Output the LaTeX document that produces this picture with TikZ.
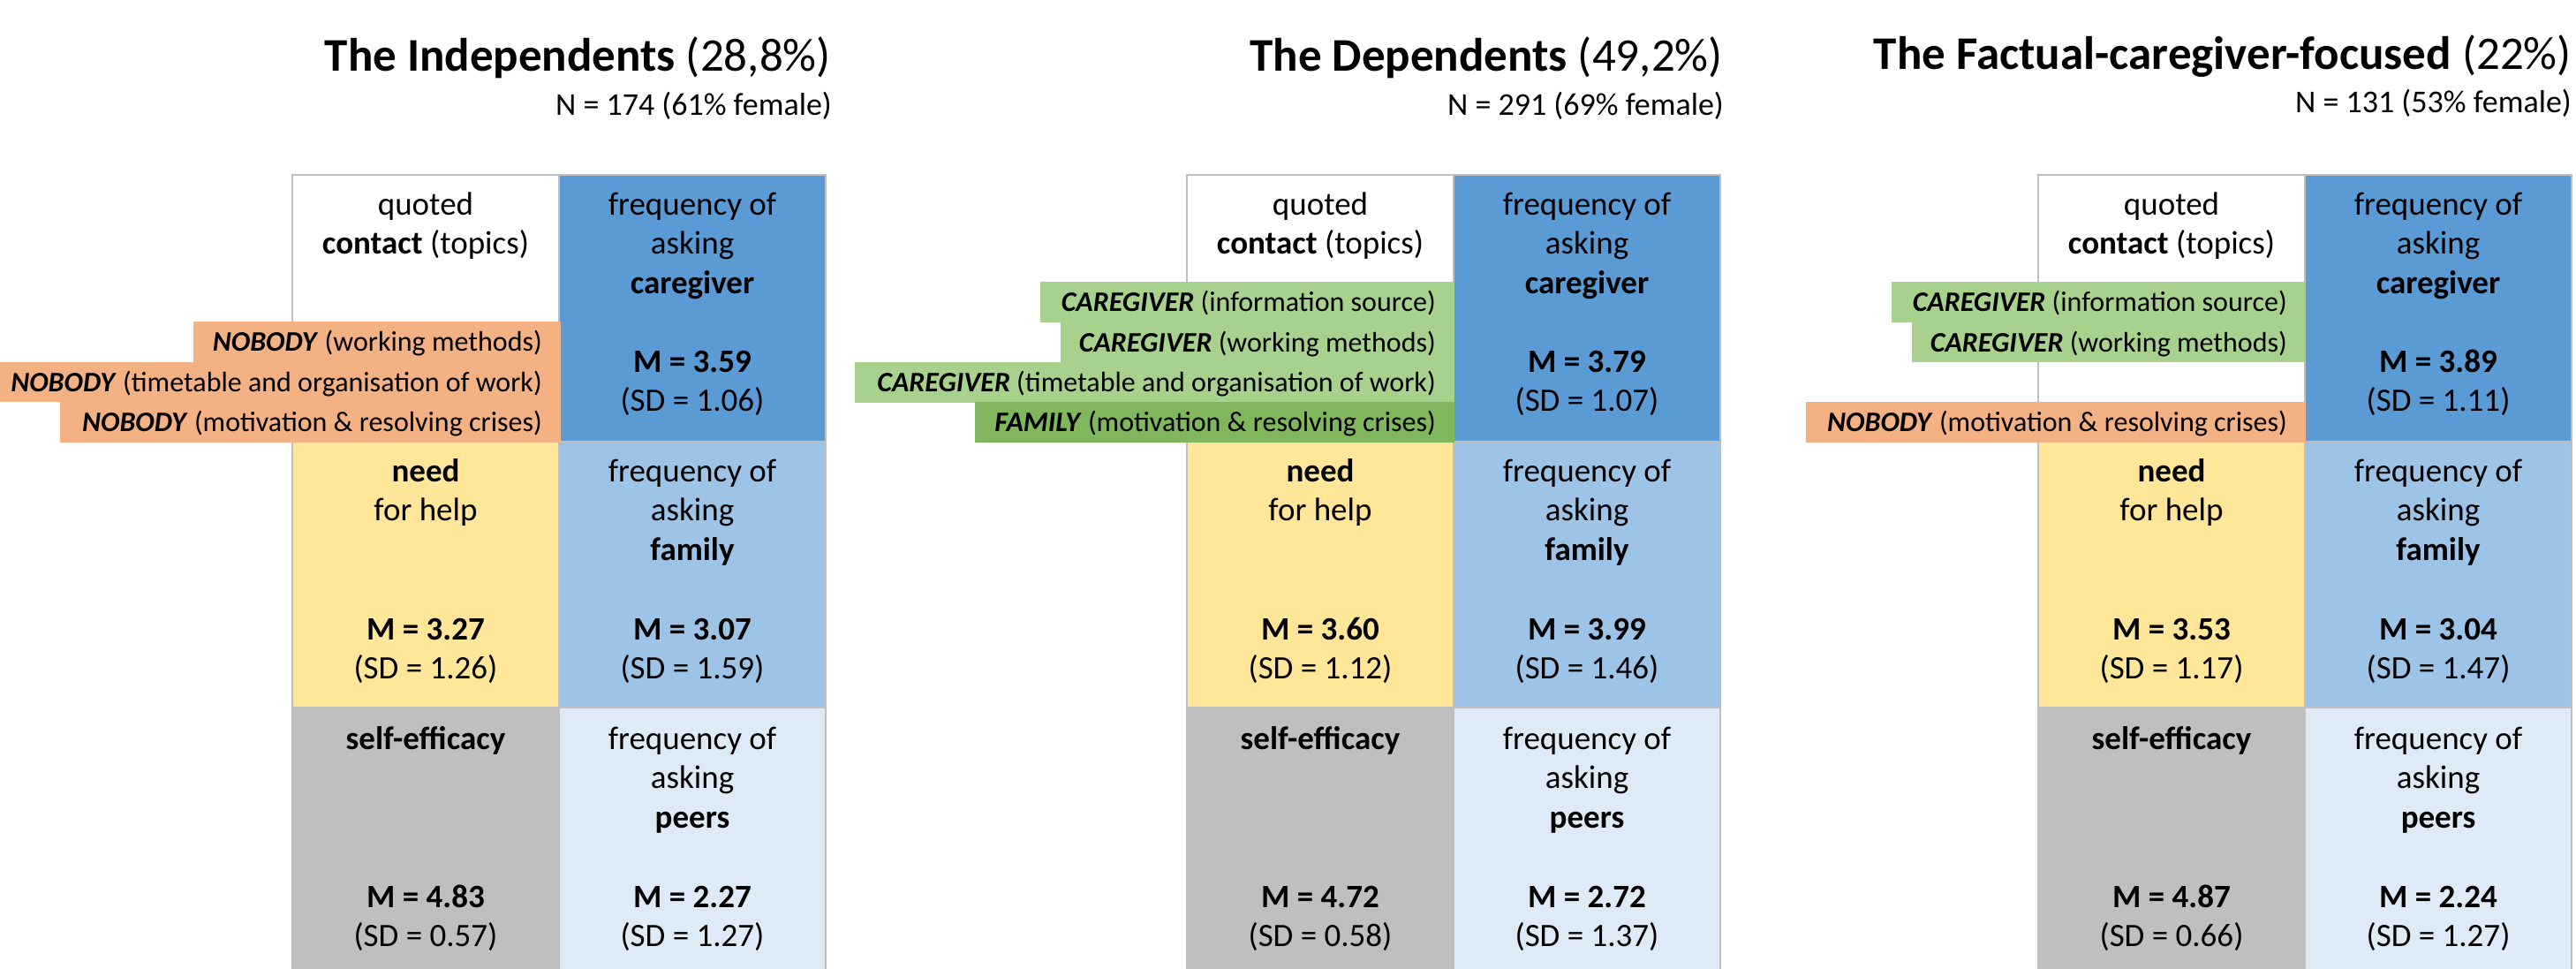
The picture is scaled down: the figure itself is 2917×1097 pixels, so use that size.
\documentclass[tikz,border=0pt]{standalone}
\usepackage{fontspec}
\setmainfont{Carlito}
\definecolor{cgblue}{HTML}{5B9BD5}
\definecolor{fmblue}{HTML}{9DC3E6}
\definecolor{prblue}{HTML}{DEEBF7}
\definecolor{needyel}{HTML}{FFE699}
\definecolor{selfgray}{HTML}{BFBFBF}
\definecolor{lblorange}{HTML}{F4B183}
\definecolor{lblgreen}{HTML}{A9D18E}
\definecolor{lbldgreen}{HTML}{80B65C}
\definecolor{cellborder}{HTML}{BFBFBF}
\tikzset{
  cellbox/.style={draw=cellborder,line width=2pt},
  celltext/.style={anchor=base,inner sep=0pt,font=\fontsize{37}{45}\selectfont},
  titletext/.style={anchor=base east,inner sep=0pt,font=\fontsize{53}{63}\selectfont},
  subtext/.style={anchor=base east,inner sep=0pt,font=\fontsize{36}{43}\selectfont},
  lbltext/.style={anchor=base east,inner sep=0pt,font=\fontsize{32}{38}\selectfont},
}
% cell text: name, x, y, text
\newcommand{\ctext}[4]{\node[celltext] (#1) at (#2,#3) {#4};}
% a label box: name, left, top, right, colour, bold word, rest
\newcommand{\lblbox}[7]{%
  \fill[#5] (#2,#3) rectangle (#4,#3+45.5);
  \node[lbltext] (#1) at (#4-21,#3+33.5) {\textbf{\textit{#6}} #7};}
% a whole panel: prefix, left x, six values
\newcommand{\panel}[8]{%
  \begin{scope}[shift={(#2,0)}]
    \fill[white] (0,198) rectangle (302,500);
    \draw[cellbox] (0,198) rectangle (302,500);
    \fill[cgblue] (302,198) rectangle (604,500);
    \draw[cellbox] (302,198) rectangle (604,500);
    \fill[needyel] (0,500) rectangle (302,801);
    \draw[cellbox] (0,500) rectangle (302,801);
    \fill[fmblue] (302,500) rectangle (604,801);
    \draw[cellbox] (302,500) rectangle (604,801);
    \fill[selfgray] (0,801) rectangle (302,1110);
    \draw[cellbox] (0,801) rectangle (302,1110);
    \fill[prblue] (302,801) rectangle (604,1110);
    \draw[cellbox] (302,801) rectangle (604,1110);
    % row 1
    \ctext{#1qa}{151}{243}{quoted}
    \ctext{#1qb}{151}{287.5}{\textbf{contact} (topics)}
    \ctext{#1ca}{453}{243}{frequency of}
    \ctext{#1cb}{453}{287.5}{asking}
    \ctext{#1cc}{453}{332}{\textbf{caregiver}}
    \ctext{#1cm}{453}{421}{\textbf{M = #3}}
    \ctext{#1cs}{453}{465.5}{(SD = #4)}
    % row 2
    \ctext{#1na}{151}{545}{\textbf{need}}
    \ctext{#1nb}{151}{589.5}{for help}
    \ctext{#1nm}{151}{724}{\textbf{M = #5}}
    \ctext{#1ns}{151}{768.5}{(SD = #6)}
    \ctext{#1fa}{453}{545}{frequency of}
    \ctext{#1fb}{453}{589.5}{asking}
    \ctext{#1fc}{453}{634}{\textbf{family}}
    \ctext{#1fm}{453}{724}{\textbf{M = #7}}
    \ctext{#1fs}{453}{768.5}{(SD = #8)}
  \end{scope}}
\newcommand{\panelrow}[6]{%
  \begin{scope}[shift={(#2,0)}]
    \ctext{#1sa}{151}{848}{\textbf{self-efficacy}}
    \ctext{#1sm}{151}{1027}{\textbf{M = #3}}
    \ctext{#1ss}{151}{1071.5}{(SD = #4)}
    \ctext{#1pa}{453}{848}{frequency of}
    \ctext{#1pb}{453}{892.5}{asking}
    \ctext{#1pc}{453}{937}{\textbf{peers}}
    \ctext{#1pm}{453}{1027}{\textbf{M = #5}}
    \ctext{#1ps}{453}{1071.5}{(SD = #6)}
  \end{scope}}
\begin{document}
\begin{tikzpicture}[x=1pt,y=-1pt]
\useasboundingbox[fill=white] (0,0) rectangle (2917,1097);
\begin{scope}
\clip (0,0) rectangle (2917,1097);
% ---------- panel 1 ----------
\panel{ia}{331}{3.59}{1.06}{3.27}{1.26}{3.07}{1.59}
\panelrow{ia}{331}{4.83}{0.57}{2.27}{1.27}
\node[titletext] (ititle) at (941,81) {\textbf{The Independents} (28,8\%)};
\node[subtext] (isub) at (942,131) {N = 174 (61\% female)};
\lblbox{il1}{219}{364}{635}{lblorange}{NOBODY}{(working methods)}
\lblbox{il2}{-12}{409.5}{635}{lblorange}{NOBODY}{(timetable and organisation of work)}
\lblbox{il3}{68}{455}{635}{lblorange}{NOBODY}{(motivation \& resolving crises)}
% ---------- panel 2 ----------
\panel{da}{1344}{3.79}{1.07}{3.60}{1.12}{3.99}{1.46}
\panelrow{da}{1344}{4.72}{0.58}{2.72}{1.37}
\node[titletext] (dtitle) at (1951,81) {\textbf{The Dependents} (49,2\%)};
\node[subtext] (dsub) at (1952,131) {N = 291 (69\% female)};
\lblbox{dl1}{1178}{319}{1647}{lblgreen}{CAREGIVER}{(information source)}
\lblbox{dl2}{1201}{364.5}{1647}{lblgreen}{CAREGIVER}{(working methods)}
\lblbox{dl3}{968}{410}{1647}{lblgreen}{CAREGIVER}{(timetable and organisation of work)}
\lblbox{dl4}{1104}{455}{1647}{lbldgreen}{FAMILY}{(motivation \& resolving crises)}
% ---------- panel 3 ----------
\panel{fa}{2308}{3.89}{1.11}{3.53}{1.17}{3.04}{1.47}
\panelrow{fa}{2308}{4.87}{0.66}{2.24}{1.27}
\node[titletext] (ftitle) at (2912,79) {\textbf{The Factual-caregiver-focused} (22\%)};
\node[subtext] (fsub) at (2912,128) {N = 131 (53\% female)};
\lblbox{fl1}{2142}{319}{2611}{lblgreen}{CAREGIVER}{(information source)}
\lblbox{fl2}{2165}{364.5}{2611}{lblgreen}{CAREGIVER}{(working methods)}
\lblbox{fl3}{2045}{455}{2611}{lblorange}{NOBODY}{(motivation \& resolving crises)}
\end{scope}
\end{tikzpicture}
\end{document}
